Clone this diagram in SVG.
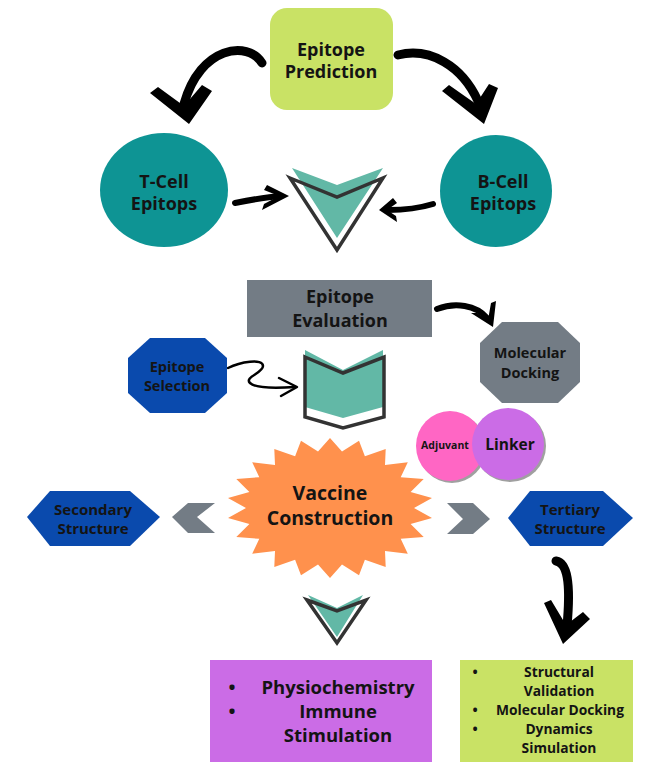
<svg xmlns="http://www.w3.org/2000/svg" width="645" height="772" viewBox="0 0 645 772">
<style>
text{font-family:"Open Sans","Liberation Sans",sans-serif;font-weight:700;fill:#141414;text-anchor:middle}
.teal{fill:#0e9494}
.slate{fill:#737c85}
.blue{fill:#0a4aad}
.chev{fill:#62b8a6}
.outl{fill:none;stroke:#333;stroke-width:3.5;stroke-linejoin:miter}
.body{fill:none;stroke:#000;stroke-linecap:round}
.head{fill:#000}
</style>
<rect width="645" height="772" fill="#fff"/>

<g id="connectors">
  <!-- Prediction -> T-Cell -->
  <path class="body" d="M262,63 C248,40 200,46 184,104" stroke-width="9"/>
  <polygon class="head" points="150,93 158,87 184,106 202,85 212,91 189,124"/>
  <!-- Prediction -> B-Cell -->
  <path class="body" d="M398,55 C430,47 462,66 478,101" stroke-width="9"/>
  <polygon class="head" points="442,91 449,85 476,104 489,84 498,88 484,124"/>
  <!-- T-Cell -> chevron -->
  <path class="body" d="M235,203 C250,200 265,197 281,196" stroke-width="6"/>
  <polygon class="head" points="267,185 289,196 262,210 264,204 279,196 264,190"/>
  <!-- B-Cell -> chevron -->
  <path class="body" d="M433,204 C420,208 405,210 388,210" stroke-width="6"/>
  <polygon class="head" points="393,198 379,210 397,222 396,216 387,210 397,203"/>
  <!-- Evaluation -> Molecular Docking -->
  <path class="body" d="M437,309 C455,302 476,305 487,318" stroke-width="6"/>
  <polygon class="head" points="471,313 477,313 488,320 491,303 496,301 493,327"/>
  <!-- Selection squiggle -->
  <path class="body" d="M228,368 C240,362 263,358 263,366 C263,373 244,377 250,383 C256,389 280,388 295,387" stroke-width="2.5"/>
  <polyline fill="none" stroke="#000" stroke-width="2.5" stroke-linecap="round" stroke-linejoin="round" points="279,378 297,387 281,396"/>
  <!-- Tertiary -> bottom box -->
  <path class="body" d="M556,561 C567,563 571,582 567,626" stroke-width="9"/>
  <polygon class="head" points="544,603 551,600 566,625 583,612 590,619 563,644"/>
  <!-- gray chevrons -->
  <polygon class="slate" points="172,517 188,503 215,503 197,517 215,533 188,533"/>
  <polygon class="slate" points="447,503 473,503 490,519 473,534 447,534 463,519"/>
</g>

<g id="epitope-prediction">
  <rect x="270" y="8" width="123" height="102" rx="17" fill="#c9e265"/>
  <text x="331" y="56" font-size="18">Epitope</text>
  <text x="331" y="78" font-size="18">Prediction</text>
</g>

<g id="t-cell">
  <ellipse class="teal" cx="164" cy="190" rx="64" ry="57"/>
  <text x="164" y="188" font-size="18">T-Cell</text>
  <text x="164" y="210" font-size="18">Epitops</text>
</g>

<g id="b-cell">
  <ellipse class="teal" cx="496" cy="191" rx="56" ry="56"/>
  <text x="503" y="188" font-size="18">B-Cell</text>
  <text x="503" y="210" font-size="18">Epitops</text>
</g>

<g id="chevron-top">
  <polygon class="chev" points="292,168 337,185 383,168 337,238"/>
  <polygon class="outl" points="290,178 337,197 383,178 337,250"/>
</g>

<g id="epitope-evaluation">
  <rect class="slate" x="247" y="280" width="185" height="57"/>
  <text x="340" y="303" font-size="18">Epitope</text>
  <text x="340" y="327" font-size="18">Evaluation</text>
</g>

<g id="molecular-docking">
  <polygon class="slate" points="502,322 558,322 580,343 580,382 558,403 502,403 480,382 480,343"/>
  <text x="530" y="358" font-size="14.5">Molecular</text>
  <text x="530" y="378" font-size="14.5">Docking</text>
</g>

<g id="epitope-selection">
  <polygon class="blue" points="150,338 205,338 227,358 227,393 205,413 150,413 128,393 128,358"/>
  <text x="177" y="372" font-size="14.5">Epitope</text>
  <text x="177" y="391" font-size="14.5">Selection</text>
</g>

<g id="chevron-middle">
  <polygon class="chev" points="305,350 343,370 383,350 383,407 343,418 305,407"/>
  <polygon class="outl" points="305,357 343,373 384,357 384,417 343,428 305,417"/>
</g>

<g id="adjuvant">
  <ellipse cx="452" cy="448" rx="34" ry="35" fill="#a0a0a0"/>
  <ellipse cx="450" cy="446" rx="34" ry="35" fill="#ff66c4"/>
  <text x="445" y="449" font-size="10.5">Adjuvant</text>
</g>

<g id="linker">
  <ellipse cx="510" cy="446" rx="36" ry="36" fill="#a0a0a0"/>
  <ellipse cx="508" cy="444" rx="36" ry="36" fill="#cb6ce6"/>
  <text x="510" y="450" font-size="15.5">Linker</text>
</g>

<g id="vaccine-construction">
  <polygon fill="#ff914d" points="330,438 342,451.6 359,440.8 364.9,456.2 385.7,449.1 385,464.9 407.8,462.2 400.7,477.2 423.7,478.9 410.6,491.9 432,498 414,508 432,518 410.6,524.1 423.7,537.1 400.7,538.8 407.8,553.8 385,551.1 385.7,566.9 364.9,559.8 359,575.2 342,564.4 330,578 318,564.4 301,575.2 295.1,559.8 274.3,566.9 275,551.1 252.2,553.8 259.3,538.8 236.3,537.1 249.4,524.1 228,518 246,508 228,498 249.4,491.9 236.3,478.9 259.3,477.2 252.2,462.2 275,464.9 274.3,449.1 295.1,456.2 301,440.8 318,451.6"/>
  <text x="330" y="500" font-size="19.5">Vaccine</text>
  <text x="330" y="525" font-size="19.5">Construction</text>
</g>

<g id="secondary-structure">
  <polygon class="blue" points="27,517 50,491 130,491 160,517 130,546 50,546"/>
  <text x="93" y="515" font-size="15">Secondary</text>
  <text x="93" y="534" font-size="15">Structure</text>
</g>

<g id="tertiary-structure">
  <polygon class="blue" points="508,518 530,491 603,491 633,518 603,546 530,546"/>
  <text x="570" y="515" font-size="15">Tertiary</text>
  <text x="570" y="534" font-size="15">Structure</text>
</g>

<g id="chevron-bottom">
  <polygon class="chev" points="308,595 337,608 363,595 337,637"/>
  <polygon class="outl" points="307,600 337,611 366,600 337,643" stroke-width="2.5"/>
</g>

<g id="physio-box">
  <rect x="210" y="660" width="222" height="102" fill="#cb6ce6"/>
  <text x="232" y="694" font-size="18.5">•</text>
  <text x="338" y="694" font-size="18.5">Physiochemistry</text>
  <text x="232" y="718" font-size="18.5">•</text>
  <text x="338" y="718" font-size="18.5">Immune</text>
  <text x="338" y="742" font-size="18.5">Stimulation</text>
</g>

<g id="validation-box">
  <rect x="460" y="660" width="173" height="102" fill="#c9e265"/>
  <text x="475" y="677" font-size="13.8">•</text>
  <text x="559" y="677" font-size="13.8">Structural</text>
  <text x="559" y="696" font-size="13.8">Validation</text>
  <text x="475" y="715" font-size="13.8">•</text>
  <text x="560" y="715" font-size="13.8">Molecular Docking</text>
  <text x="475" y="734" font-size="13.8">•</text>
  <text x="559" y="734" font-size="13.8">Dynamics</text>
  <text x="559" y="753" font-size="13.8">Simulation</text>
</g>
</svg>
